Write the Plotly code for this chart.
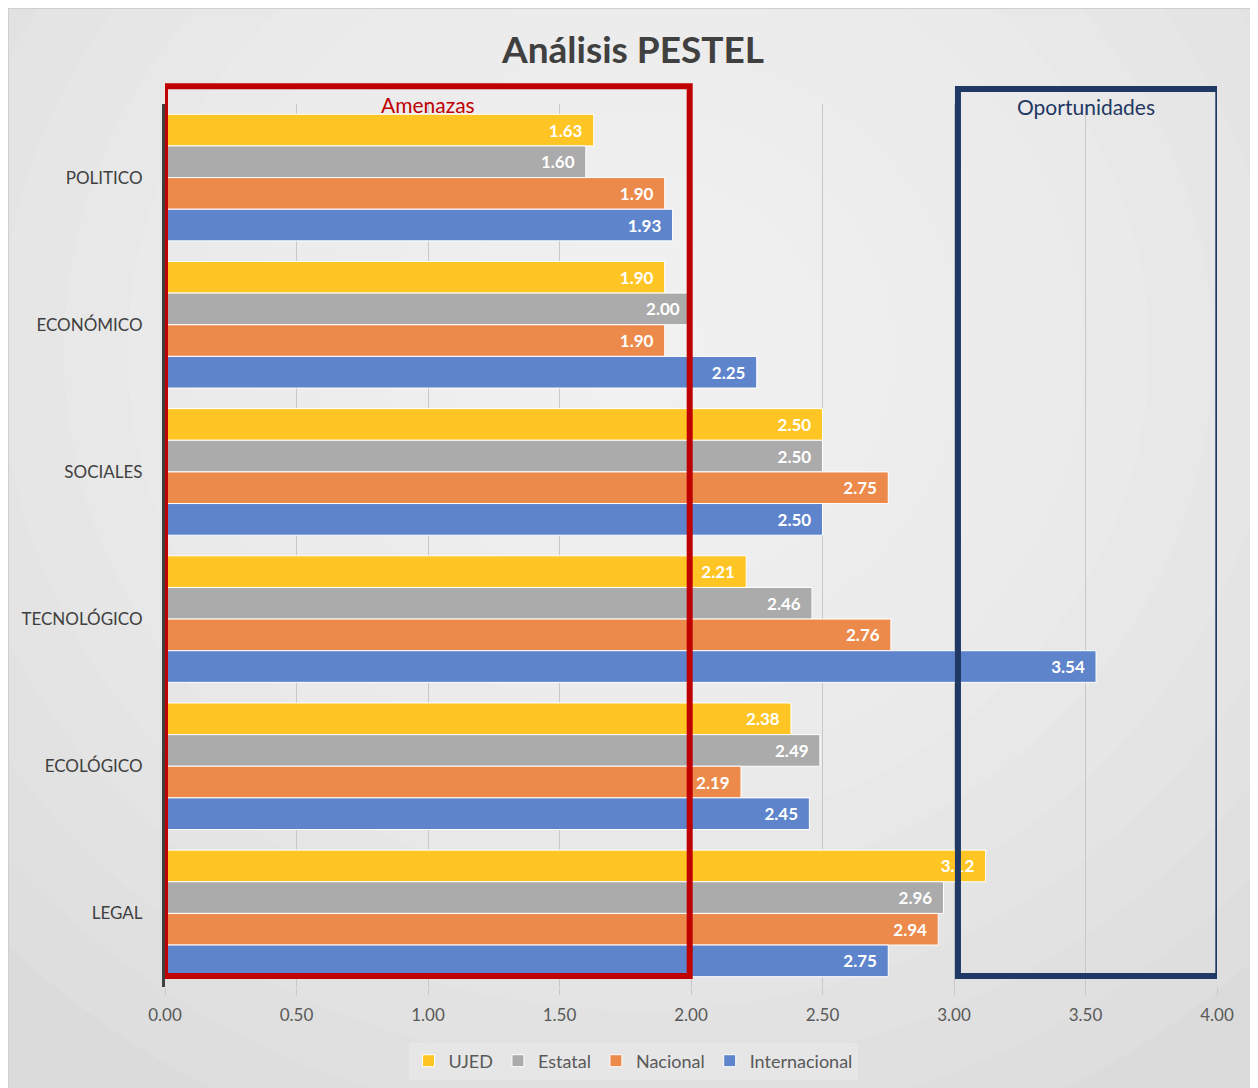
import plotly.graph_objects as go

categories = ["POLITICO", "ECONÓMICO", "SOCIALES", "TECNOLÓGICO", "ECOLÓGICO", "LEGAL"]
series_names = ["UJED", "Estatal", "Nacional", "Internacional"]
ujed = [1.63, 1.90, 2.50, 2.21, 2.38, 3.12]
estatal = [1.60, 2.00, 2.50, 2.46, 2.49, 2.96]
nacional = [1.90, 1.90, 2.75, 2.76, 2.19, 2.94]
internacional = [1.93, 2.25, 2.50, 3.54, 2.45, 2.75]
series_values = [ujed, estatal, nacional, internacional]
colors = ["#FFC525", "#ABABAB", "#EC8A4C", "#5E84CC"]
x_ticks = [0, 0.5, 1.0, 1.5, 2.0, 2.5, 3.0, 3.5, 4.0]
x_tick_labels = ["0.00", "0.50", "1.00", "1.50", "2.00", "2.50", "3.00", "3.50", "4.00"]

FONT = "Lato, 'Open Sans', sans-serif"

W, H = 1250, 1080
L, R, T, B = 157, 41, 96, 101
PW, PH = W - L - R, H - T - B

fig = go.Figure()
for name, vals, col in zip(series_names, series_values, colors):
    fig.add_trace(go.Bar(
        y=categories, x=vals, name=name, orientation="h",
        marker=dict(color=col, line=dict(color="white", width=1)),
        texttemplate="%{x:.2f}\u00a0\u00a0", textposition="inside", insidetextanchor="end",
        textfont=dict(color="white", size=17, family=FONT, weight="bold"),
        constraintext="none", cliponaxis=False,
    ))

shapes = []
# background radial gradient approximation
cx, cy = 0.45, 0.72
n = 14
for i in range(n):
    s = 1.0 - i / n
    shapes.append(dict(type="circle", xref="paper", yref="paper", layer="below",
                       x0=cx - 0.85 * s, x1=cx + 0.85 * s, y0=cy - 0.95 * s, y1=cy + 0.95 * s,
                       fillcolor="white", opacity=0.085, line=dict(width=0)))
# outer border
shapes.append(dict(type="rect", xref="paper", yref="paper", layer="below",
                   x0=-L / PW, x1=1 + R / PW + 0.05, y0=-B / PH - 0.05, y1=1 + T / PH,
                   line=dict(color="#cfcfcf", width=2), fillcolor="rgba(0,0,0,0)"))
# Amenazas box
shapes.append(dict(type="rect", xref="x", yref="paper", x0=0.0, x1=1.995,
                   y0=0.0124, y1=1.020, line=dict(color="#C00000", width=6)))
# Oportunidades box
shapes.append(dict(type="rect", xref="x", yref="paper", x0=3.015, x1=4.005,
                   y0=0.0124, y1=1.017, line=dict(color="#1F3864", width=6)))

annotations = [
    dict(text="Amenazas", x=1.0, y=1.0, xref="x", yref="paper", showarrow=False,
         yanchor="middle", font=dict(color="#C00000", size=21, family=FONT)),
    dict(text="Oportunidades", x=3.5, y=0.997, xref="x", yref="paper", showarrow=False,
         yanchor="middle", font=dict(color="#1F3864", size=21, family=FONT)),
]

fig.update_layout(
    width=W, height=H,
    margin=dict(l=L, r=R, t=T, b=B),
    paper_bgcolor="#dbdbdb", plot_bgcolor="rgba(0,0,0,0)",
    title=dict(text="<b>Análisis PESTEL</b>", x=0.5, xref="container", xanchor="center",
               y=(H - 42) / H, yanchor="middle",
               font=dict(size=37, color="#404040", family=FONT)),
    barmode="group", bargap=0.14, bargroupgap=0.0,
    xaxis=dict(range=[0, 4], tickvals=x_ticks, ticktext=x_tick_labels,
               showgrid=True, gridcolor="#c8c8c8", gridwidth=1, zeroline=False,
               ticks="outside", ticklen=7, tickcolor="#c8c8c8", ticklabelstandoff=6,
               tickfont=dict(size=17, color="#595959", family=FONT)),
    yaxis=dict(autorange="reversed", showline=True, linecolor="#404040", linewidth=3,
               ticks="", ticklabelstandoff=16, showgrid=False,
               tickfont=dict(size=17, color="#404040", family=FONT)),
    legend=dict(orientation="h", xref="container", x=0.5, xanchor="center",
                yref="container", y=(H - 1053) / H, yanchor="middle",
                bgcolor="#e6e6e6", font=dict(size=18, color="#595959", family=FONT),
                traceorder="normal", itemwidth=30),
    shapes=shapes, annotations=annotations,
    uniformtext=dict(minsize=17, mode="show"),
)

fig.write_html("out.html")
